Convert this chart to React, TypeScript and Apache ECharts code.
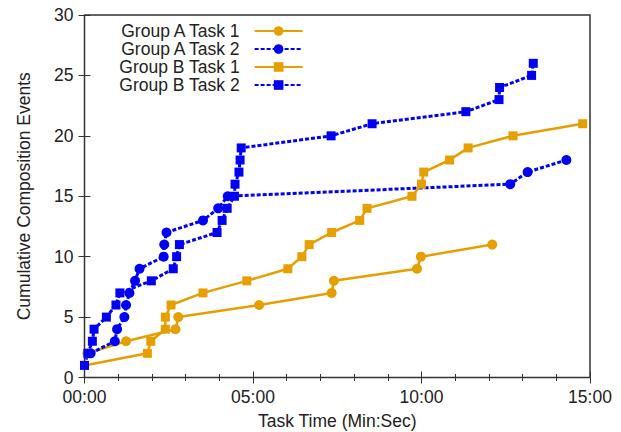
import React, { useEffect, useRef } from "react";
import * as echarts from "echarts";

// Times in seconds, values are cumulative counts
const seriesNames = ["Group A Task 1", "Group A Task 2", "Group B Task 1", "Group B Task 2"];

const aTask1Times = [5, 74, 162, 167, 311, 440, 444, 592, 599, 726];
const aTask1Counts = [2, 3, 4, 5, 6, 7, 8, 9, 10, 11];

const aTask2Times = [11, 54, 58, 71, 74, 80, 90, 98, 141, 142, 146, 211, 238, 255, 758, 789, 858];
const aTask2Counts = [2, 3, 4, 5, 6, 7, 8, 9, 10, 11, 12, 13, 14, 15, 16, 17, 18];

const bTask1Times = [0, 112, 118, 144, 144, 154, 211, 289, 362, 387, 400, 440, 490, 503, 583, 600, 604, 650, 683, 763, 887];
const bTask1Counts = [1, 2, 3, 4, 5, 6, 7, 8, 9, 10, 11, 12, 13, 14, 15, 16, 17, 18, 19, 20, 21];

const bTask2Times = [0, 6, 14, 17, 39, 56, 63, 119, 158, 164, 169, 236, 245, 254, 267, 268, 275, 277, 279, 439, 512, 679, 738, 739, 796, 799];
const bTask2Counts = [1, 2, 3, 4, 5, 6, 7, 8, 9, 10, 11, 12, 13, 14, 15, 16, 17, 18, 19, 20, 21, 22, 23, 24, 25, 26];

const xMin = 0;
const xMax = 900;
const xInterval = 300;
const yMin = 0;
const yMax = 30;
const yInterval = 5;

const ORANGE = "#E69F00";
const BLUE = "#0000F5";
const TEXT = "#222";
const FONT = "Liberation Sans, Arial, sans-serif";
const FS = 17.5;

function pairs(t: number[], c: number[]) {
  return t.map((v, i) => [v, c[i]]);
}

function fmt(v: number) {
  const m = Math.floor(v / 60);
  const s = Math.round(v % 60);
  return String(m).padStart(2, "0") + ":" + String(s).padStart(2, "0");
}

export default function App() {
  const ref = useRef<HTMLDivElement>(null);
  useEffect(() => {
    if (!ref.current) return;
    const chart = echarts.init(ref.current, null, { renderer: "svg" });
    const axisCommon = {
      axisLine: { show: false },
      axisTick: { show: true, inside: true, length: 6, lineStyle: { color: "#333", width: 1 } },
      splitLine: { show: false },
    };
    const mk = (name: string, data: number[][], color: string, symbol: string, dotted: boolean) => ({
      name,
      type: "line",
      data,
      symbol,
      symbolSize: symbol === "rect" ? 9 : 10,
      showSymbol: true,
      xAxisIndex: 0,
      yAxisIndex: 0,
      itemStyle: { color },
      lineStyle: { color, width: dotted ? 3 : 2.5, type: dotted ? [4, 2] : "solid" },
      emphasis: { disabled: true },
    });
    chart.setOption({
      animation: false,
      backgroundColor: "#fff",
      textStyle: { fontFamily: FONT },
      grid: {
        left: 84.5,
        right: 31,
        top: 15,
        bottom: 54.5,
        show: true,
        borderColor: "#333",
        borderWidth: 1.5,
        containLabel: false,
        outerBoundsMode: "none",
      },
      legend: {
        show: true,
        orient: "vertical",
        left: 119,
        top: 22,
        padding: 0,
        align: "right",
        itemWidth: 48,
        itemHeight: 12,
        itemGap: 0,
        data: seriesNames,
        textStyle: { fontSize: FS, lineHeight: 17, color: TEXT, fontFamily: FONT, padding: [0, 10, 0, 0] },
      },
      xAxis: [
        {
          type: "value",
          min: xMin,
          max: xMax,
          interval: xInterval,
          position: "bottom",
          name: "Task Time (Min:Sec)",
          nameLocation: "middle",
          nameGap: 34.5,
          nameTextStyle: { fontSize: FS, color: TEXT, fontFamily: FONT },
          axisLabel: { formatter: fmt, fontSize: FS, color: TEXT, margin: 10.5, fontFamily: FONT },
          minorTick: { show: true, splitNumber: 5, length: 3.5, lineStyle: { color: "#333" } },
          ...axisCommon,
        },
        {
          type: "value",
          min: xMin,
          max: xMax,
          interval: xInterval,
          position: "top",
          axisLabel: { show: false },
          minorTick: { show: true, splitNumber: 5, length: 3.5, lineStyle: { color: "#333" } },
          ...axisCommon,
        },
      ],
      yAxis: [
        {
          type: "value",
          min: yMin,
          max: yMax,
          interval: yInterval,
          position: "left",
          name: "Cumulative Composition Events",
          nameLocation: "middle",
          nameGap: 52,
          nameTextStyle: { fontSize: FS, color: TEXT, fontFamily: FONT },
          axisLabel: { fontSize: FS, color: TEXT, margin: 11, fontFamily: FONT },
          ...axisCommon,
        },
        {
          type: "value",
          min: yMin,
          max: yMax,
          interval: yInterval,
          position: "right",
          axisLabel: { show: false },
          ...axisCommon,
        },
      ],
      series: [
        mk(seriesNames[0], pairs(aTask1Times, aTask1Counts), ORANGE, "circle", false),
        mk(seriesNames[1], pairs(aTask2Times, aTask2Counts), BLUE, "circle", true),
        mk(seriesNames[2], pairs(bTask1Times, bTask1Counts), ORANGE, "rect", false),
        mk(seriesNames[3], pairs(bTask2Times, bTask2Counts), BLUE, "rect", true),
      ],
    });
    return () => chart.dispose();
  }, []);
  return (
    <div
      ref={ref}
      style={{ position: "absolute", left: 0, top: 0, width: 621, height: 432 }}
    />
  );
}
